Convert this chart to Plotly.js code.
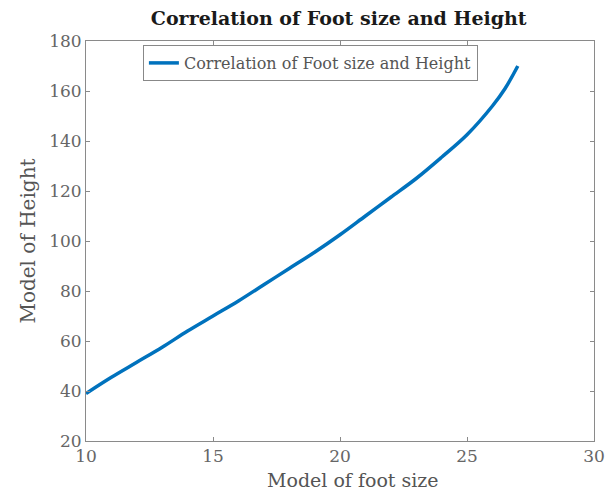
<!DOCTYPE html>
<html>
<head>
<meta charset="utf-8">
<script src="https://cdn.plot.ly/plotly-3.0.1.min.js"></script>
<style>html,body{margin:0;padding:0;background:#fff;}#chart{width:607px;height:496px;}</style>
</head>
<body>
<div id="chart"></div>
<script>
const footSize = [10, 11, 12, 13, 14, 15, 16, 17, 18, 19, 20, 21, 22, 23, 24, 25, 26, 26.5, 27];
const heightModel = [39, 45.5, 51.5, 57.5, 64, 70, 76, 82.5, 89, 95.5, 102.5, 110, 117.5, 125, 133.5, 142.5, 154, 161, 170];
const xTicks = [10, 15, 20, 25, 30];
const yTicks = [20, 40, 60, 80, 100, 120, 140, 160, 180];
const seriesName = 'Correlation of Foot size and Height';
const titleText = 'Correlation of Foot size and Height';
const xTitle = 'Model of foot size';
const yTitle = 'Model of Height';

const font = 'DejaVu Serif, Liberation Serif, serif';
const axisCommon = {
  showline: true, linecolor: '#8a8a8a', linewidth: 1, mirror: 'ticks',
  ticks: 'inside', ticklen: 4, tickcolor: '#8a8a8a',
  showgrid: false, zeroline: false,
  tickfont: {family: font, size: 17, color: '#666'}
};
Plotly.newPlot('chart', [{
  x: footSize, y: heightModel, type: 'scatter', mode: 'lines', name: seriesName,
  line: {color: '#0072BD', width: 3.5, shape: 'spline'}
}], {
  width: 607, height: 496,
  margin: {l: 86, r: 13, t: 41, b: 55},
  paper_bgcolor: '#fff', plot_bgcolor: '#fff',
  showlegend: true,
  title: {text: '<b>' + titleText + '</b>', font: {family: font, size: 19, color: '#1a1a1a'}, x: 0.558, xanchor: 'center', y: 0.963, yanchor: 'middle'},
  xaxis: Object.assign({}, axisCommon, {range: [10, 30], tickvals: xTicks}),
  yaxis: Object.assign({}, axisCommon, {range: [20, 180], tickvals: yTicks,
    title: {text: yTitle, font: {family: font, size: 20, color: '#555'}, standoff: 8}}),
  annotations: [{
    text: xTitle, xref: 'paper', yref: 'paper', x: 0.526, y: -0.0975,
    xanchor: 'center', yanchor: 'middle', showarrow: false,
    font: {family: font, size: 19, color: '#555'}
  }],
  legend: {x: 0.112, y: 0.99, xanchor: 'left', yanchor: 'top', bordercolor: '#888', borderwidth: 1,
    bgcolor: '#fff', font: {family: font, size: 16, color: '#555'}}
}, {displayModeBar: false, staticPlot: true});
</script>
</body>
</html>
